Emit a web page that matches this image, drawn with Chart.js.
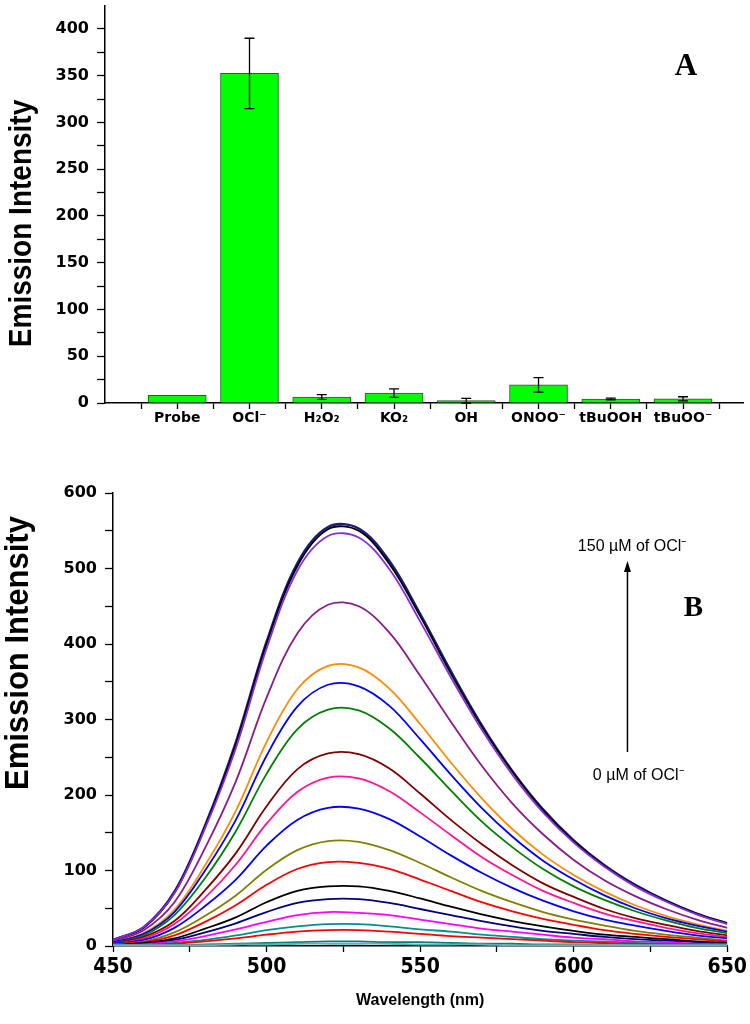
<!DOCTYPE html>
<html>
<head>
<meta charset="utf-8">
<script src="https://cdn.jsdelivr.net/npm/chart.js@4.4.1/dist/chart.umd.min.js"></script>
<style>
body{margin:0;background:#fff;width:750px;height:1024px;overflow:hidden;position:relative;}
#boxA{position:absolute;left:0;top:-12px;width:750px;height:452px;}
#boxB{position:absolute;left:0;top:440px;width:750px;height:584px;}
</style>
</head>
<body>
<div id="boxA"><canvas id="chartA"></canvas></div>
<div id="boxB"><canvas id="chartB"></canvas></div>
<script>
// Panel A: emission of the probe with different ROS
const speciesNames = ['Probe', 'OCl⁻', 'H₂O₂', 'KO₂', 'OH', 'ONOO⁻', 'tBuOOH', 'tBuOO⁻'];
const speciesPos = [1, 2, 3, 4, 5, 6, 7, 8];
const intensity = [8.1, 352.5, 6.4, 10.6, 2.5, 19.4, 4.3, 4.5];
const intensityErr = [0, 37.6, 2.5, 4.6, 2.5, 7.7, 1.0, 2.2];
const yTicksA = [0, 25, 50, 75, 100, 125, 150, 175, 200, 225, 250, 275, 300, 325, 350, 375, 400];
const xTicksA = [0.5, 1, 1.5, 2, 2.5, 3, 3.5, 4, 4.5, 5, 5.5, 6, 6.5, 7, 7.5, 8, 8.5];

// Panel B: titration spectra with OCl- (0 -> 150 uM)
const wavelength = [450, 460, 470, 480, 490, 500, 510, 520, 530, 540, 550, 560, 570, 580, 590, 600, 610, 620, 630, 640, 650];
const xTicksB = [450, 475, 500, 525, 550, 575, 600, 625, 650];
const yTicksB = [0, 50, 100, 150, 200, 250, 300, 350, 400, 450, 500, 550, 600];

const s150 = [8, 25, 72, 160, 270, 403, 507, 555, 553, 510, 440, 364, 293, 232, 181, 140, 107, 81, 60, 43, 30];
const s140 = [8, 24, 70, 158, 267, 400, 503, 552, 550, 506, 437, 361, 291, 231, 180, 139, 106, 80, 60, 43, 30];
const s130 = [8, 25, 70, 156, 262, 394, 497, 543, 541, 499, 430, 356, 287, 227, 177, 137, 105, 79, 59, 42, 29];
const s120 = [6, 21, 58, 130, 218, 329, 414, 452, 450, 415, 358, 297, 239, 189, 148, 114, 87, 66, 49, 35, 24];
const s110 = [5, 17, 48, 107, 179, 270, 340, 371, 369, 341, 294, 243, 196, 155, 121, 94, 72, 54, 40, 29, 20];
const s100 = [5, 16, 45, 100, 167, 252, 317, 346, 344, 318, 274, 227, 183, 145, 113, 88, 67, 50, 37, 27, 19];
const s90 = [4, 14, 41, 90, 152, 228, 287, 313, 312, 288, 249, 206, 165, 131, 102, 79, 61, 46, 34, 24, 17];
const s80 = [4, 12, 33, 74, 123, 185, 234, 255, 254, 235, 202, 167, 135, 107, 83, 65, 49, 37, 28, 20, 14];
const s70 = [3, 10, 29, 64, 108, 162, 204, 223, 222, 205, 177, 147, 118, 94, 73, 57, 43, 33, 24, 17, 12];
const s60 = [3, 8, 24, 53, 88, 133, 167, 183, 182, 168, 145, 120, 97, 77, 60, 46, 35, 27, 20, 14, 10];
const s50 = [2, 6, 18, 40, 67, 101, 127, 139, 138, 127, 110, 91, 73, 58, 45, 35, 27, 20, 15, 11, 7];
const s40 = [2, 5, 14, 32, 54, 81, 102, 111, 110, 102, 88, 73, 58, 46, 36, 28, 21, 16, 12, 9, 6];
const s30 = [1, 4, 10, 23, 38, 58, 73, 79, 79, 73, 63, 52, 42, 33, 26, 20, 15, 12, 9, 6, 4];
const s20 = [1, 3, 8, 18, 30, 45, 57, 62, 62, 57, 49, 41, 33, 26, 20, 16, 12, 9, 7, 5, 3];
const s15 = [1, 2, 6, 13, 22, 32, 41, 45, 44, 41, 35, 29, 23, 19, 15, 11, 9, 6, 5, 3, 2];
const s10 = [1, 1, 4, 8, 14, 21, 26, 29, 29, 26, 22, 19, 15, 12, 9, 7, 6, 4, 3, 2, 2];
const s5 = [0, 1, 3, 6, 10, 15, 19, 21, 21, 19, 16, 13, 11, 9, 7, 5, 4, 3, 2, 2, 1];
const s2 = [1, 1, 1, 2, 3, 4, 5, 6, 6, 5, 5, 4, 3, 3, 2, 2, 1, 1, 1, 1, 1];
const s0 = [1, 1, 1, 1, 2, 2, 3, 3, 3, 3, 2, 2, 2, 1, 1, 1, 1, 1, 1, 1, 1];

const spectra = [s0, s2, s5, s10, s15, s20, s30, s40, s50, s60, s70, s80, s90, s100, s110, s120, s130, s140, s150];
const spectraColors = ['#5fb3b3', '#008080', '#ff0000', '#009090', '#ff00ff', '#000080', '#000000', '#ff0000', '#808000',
  '#0000ff', '#ff1493', '#800000', '#008000', '#0000ff', '#ff8c00', '#8b1a8b', '#8a2be2', '#000000', '#1a1a80'];

Chart.defaults.font.family = "'Liberation Sans', Arial, sans-serif";
Chart.defaults.color = '#000';

const axisGrid = { display: true, drawOnChartArea: false, drawTicks: true, tickLength: 8, color: '#000', tickWidth: 1.3 };
const axisBorder = { display: true, color: '#000', width: 1.5 };
const tickFontY = { family: "'DejaVu Sans', 'Liberation Sans', sans-serif", size: 16, weight: 'bold' };

// rotated y title, drawn a little stretched like the original figure
function drawSideTitle(ctx, text, x, y, size) {
  ctx.save();
  ctx.translate(x, y);
  ctx.scale(1.1, 1);
  ctx.rotate(-Math.PI / 2);
  ctx.font = 'bold ' + size + "px 'Liberation Sans', Arial, sans-serif";
  ctx.fillStyle = '#000';
  ctx.textAlign = 'center';
  ctx.textBaseline = 'alphabetic';
  ctx.fillText(text, 0, 0);
  ctx.restore();
}

// error bars for panel A
const errorBars = {
  id: 'errorBars',
  afterDatasetsDraw(chart) {
    const ctx = chart.ctx, xs = chart.scales.x, ys = chart.scales.y;
    ctx.save();
    ctx.strokeStyle = '#000';
    ctx.lineWidth = 1.3;
    intensity.forEach((v, i) => {
      const e = intensityErr[i];
      if (!e) return;
      const x = xs.getPixelForValue(speciesPos[i]);
      const y1 = ys.getPixelForValue(v + e);
      const y2 = ys.getPixelForValue(Math.max(v - e, 0));
      ctx.beginPath();
      ctx.moveTo(x, y1); ctx.lineTo(x, y2);
      ctx.moveTo(x - 5, y1); ctx.lineTo(x + 5, y1);
      ctx.moveTo(x - 5, y2); ctx.lineTo(x + 5, y2);
      ctx.stroke();
    });
    ctx.restore();
  }
};

const textA = {
  id: 'textA',
  afterDraw(chart) {
    const ctx = chart.ctx, xs = chart.scales.x, ys = chart.scales.y;
    drawSideTitle(ctx, 'Emission Intensity', 31, ys.getPixelForValue(192), 28);
    ctx.save();
    ctx.font = "bold 31px 'Liberation Serif', 'Times New Roman', serif";
    ctx.textAlign = 'center';
    ctx.textBaseline = 'middle';
    ctx.fillText('A', xs.getPixelForValue(8.04), ys.getPixelForValue(359));
    ctx.restore();
  }
};

new Chart(document.getElementById('chartA'), {
  type: 'bar',
  data: {
    datasets: [{
      label: 'Emission Intensity',
      data: speciesPos.map((p, i) => ({ x: p, y: intensity[i] })),
      backgroundColor: '#00ff00',
      borderColor: '#2b5a2b',
      borderWidth: 1,
      barThickness: 58
    }]
  },
  options: {
    responsive: true,
    maintainAspectRatio: false,
    animation: false,
    layout: { padding: { top: 12, right: 7, left: 0, bottom: 0 } },
    plugins: { legend: { display: false }, tooltip: { enabled: false } },
    scales: {
      x: {
        type: 'linear',
        offset: false,
        min: 0,
        max: 8.83,
        grid: Object.assign({}, axisGrid, { tickLength: 6, offset: false }),
        border: axisBorder,
        afterBuildTicks: (s) => { s.ticks = xTicksA.map(v => ({ value: v })); },
        afterFit: (s) => { s.height = 37; },
        ticks: {
          autoSkip: false,
          maxRotation: 0,
          padding: 1,
          font: { family: "'DejaVu Sans', 'Liberation Sans', sans-serif", size: 14, weight: 'bold' },
          callback: (v) => Number.isInteger(v) ? speciesNames[v - 1] : ''
        }
      },
      y: {
        min: 0,
        max: 425,
        grid: axisGrid,
        border: axisBorder,
        afterBuildTicks: (s) => { s.ticks = yTicksA.map(v => ({ value: v })); },
        afterFit: (s) => { s.width = 105; },
        ticks: {
          padding: 8,
          font: tickFontY,
          callback: (v) => v % 50 === 0 ? v : ''
        }
      }
    }
  },
  plugins: [errorBars, textA]
});

// arrow, labels and titles for panel B
const textB = {
  id: 'textB',
  afterDraw(chart) {
    const ctx = chart.ctx, xs = chart.scales.x, ys = chart.scales.y;
    drawSideTitle(ctx, 'Emission Intensity', 28, ys.getPixelForValue(388), 31);
    const ax = xs.getPixelForValue(617.5);
    const yTop = ys.getPixelForValue(510);
    const yBot = ys.getPixelForValue(257);
    ctx.save();
    ctx.strokeStyle = '#000';
    ctx.fillStyle = '#000';
    ctx.lineWidth = 1.5;
    ctx.beginPath();
    ctx.moveTo(ax, yBot); ctx.lineTo(ax, yTop + 8);
    ctx.stroke();
    ctx.beginPath();
    ctx.moveTo(ax, yTop); ctx.lineTo(ax - 3.5, yTop + 11); ctx.lineTo(ax + 3.5, yTop + 11);
    ctx.closePath(); ctx.fill();
    ctx.font = "16px 'Liberation Sans Narrow', 'Liberation Sans', Arial, sans-serif";
    ctx.textAlign = 'center';
    ctx.textBaseline = 'middle';
    ctx.fillText('150 µM of OCl⁻', xs.getPixelForValue(619), ys.getPixelForValue(529));
    ctx.fillText('0 µM of OCl⁻', xs.getPixelForValue(621), ys.getPixelForValue(226));
    ctx.font = "bold 29px 'Liberation Serif', 'Times New Roman', serif";
    ctx.fillText('B', xs.getPixelForValue(639), ys.getPixelForValue(447));
    ctx.restore();
  }
};

new Chart(document.getElementById('chartB'), {
  type: 'line',
  data: {
    datasets: spectra.map((vals, i) => ({
      label: 'spectrum ' + i,
      data: wavelength.map((w, j) => ({ x: w, y: vals[j] })),
      borderColor: spectraColors[i],
      borderWidth: i === spectra.length - 1 ? 2.4 : 1.8,
      pointRadius: 0,
      fill: false,
      tension: 0.35
    }))
  },
  options: {
    responsive: true,
    maintainAspectRatio: false,
    animation: false,
    layout: { padding: { top: 53, right: 19, left: 0, bottom: 0 } },
    plugins: { legend: { display: false }, tooltip: { enabled: false } },
    scales: {
      x: {
        type: 'linear',
        min: 450,
        max: 650,
        grid: Object.assign({}, axisGrid, { tickLength: 6 }),
        border: axisBorder,
        afterBuildTicks: (s) => { s.ticks = xTicksB.map(v => ({ value: v })); },
        afterFit: (s) => { s.height = 78; },
        ticks: {
          autoSkip: false,
          maxRotation: 0,
          padding: 3,
          font: { family: "'Liberation Sans Narrow', 'DejaVu Sans Condensed', 'Liberation Sans', sans-serif", size: 21, weight: 'bold' },
          callback: (v) => v % 50 === 0 ? v : ''
        },
        title: {
          display: true,
          text: 'Wavelength (nm)',
          font: { size: 16, weight: 'bold' },
          padding: { top: 0, bottom: 14 }
        }
      },
      y: {
        min: 0,
        max: 600,
        grid: axisGrid,
        border: axisBorder,
        afterBuildTicks: (s) => { s.ticks = yTicksB.map(v => ({ value: v })); },
        afterFit: (s) => { s.width = 113; },
        ticks: {
          padding: 8,
          font: tickFontY,
          callback: (v) => v % 100 === 0 ? v : ''
        }
      }
    }
  },
  plugins: [textB]
});
</script>
</body>
</html>
